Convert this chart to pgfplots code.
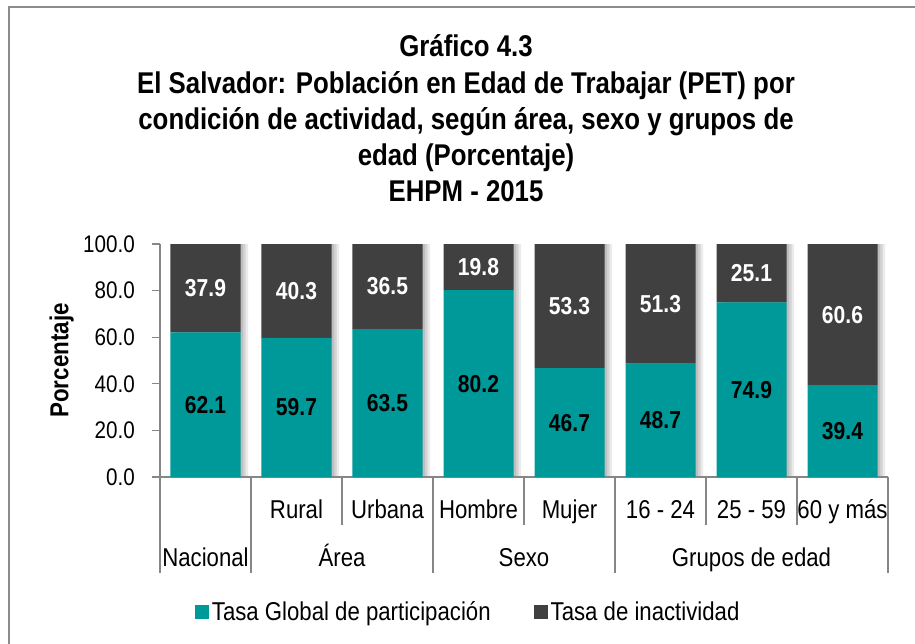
\documentclass[border=0pt]{standalone}
\usepackage{fontspec}
\setmainfont{Liberation Sans}[FakeStretch=0.86]
\usepackage{pgfplots}
\usepackage{pgfplotstable}
\pgfplotsset{compat=1.18}
\definecolor{tealc}{RGB}{0,153,153}
\definecolor{darkc}{RGB}{64,64,64}
\definecolor{gridc}{RGB}{217,217,217}
\definecolor{axisc}{RGB}{134,134,134}
\definecolor{borderc}{RGB}{140,140,140}

\pgfplotstableread{
x a b
0 62.1 37.9
1 59.7 40.3
2 63.5 36.5
3 80.2 19.8
4 46.7 53.3
5 48.7 51.3
6 74.9 25.1
7 39.4 60.6
}\data
\pgfplotstablecreatecol[create col/expr={\thisrow{a}/2}]{ma}{\data}
\pgfplotstablecreatecol[create col/expr={\thisrow{a}+\thisrow{b}/2}]{mb}{\data}
\pgfplotstablecreatecol[create col/expr={\thisrow{a}+\thisrow{b}}]{tot}{\data}

\pgfplotsset{
  samebox/.style={
    at={(160pt,-477pt)}, anchor=south west,
    scale only axis, width=728pt, height=233pt,
    xmin=-0.5, xmax=7.5, ymin=0, ymax=100,
  }
}
\newcommand{\catfont}{\fontsize{25.8}{30}\selectfont}

\begin{document}
\begin{tikzpicture}[x=1pt,y=1pt]
\path[use as bounding box] (0,0) rectangle (915,-644);
\draw[borderc, line width=2.5pt] (9,-700) -- (9,-7) -- (1000,-7);
\begin{scope}[every node/.style={anchor=base, inner sep=0pt, font=\fontsize{30}{36}\selectfont\bfseries}]
\node at (466,-57) {Gráfico 4.3};
\node at (466,-94) {El Salvador: Población en Edad de Trabajar (PET) por};
\node at (466,-130) {condición de actividad, según área, sexo y grupos de};
\node at (466,-166) {edad (Porcentaje)};
\node at (466,-202) {EHPM - 2015};
\end{scope}

% grid + shadows behind the bars
\begin{axis}[samebox, ybar, bar width=70pt, bar shift=0pt,
  axis lines=none, ytick={20,40,60,80,100}, xtick=\empty,
  ymajorgrids, grid style={draw=gridc, line width=1pt}]
\addplot[fill=black, draw=none, opacity=0.10, bar shift=2.5pt] table[x=x, y=tot]{\data};
\addplot[fill=black, draw=none, opacity=0.10, bar shift=5pt] table[x=x, y=tot]{\data};
\addplot[fill=black, draw=none, opacity=0.08, bar shift=7.5pt] table[x=x, y=tot]{\data};
\end{axis}

\begin{axis}[
  samebox,
  ybar stacked, bar width=70pt,
  clip=false,
  axis x line*=bottom, axis y line*=left,
  axis line style={draw=axisc, line width=1.2pt},
  /pgf/number format/assume math mode=true,
  ytick={0,20,40,60,80,100},
  yticklabel style={/pgf/number format/fixed, /pgf/number format/fixed zerofill,
     /pgf/number format/precision=1,
     font=\fontsize{24}{28}\selectfont, inner sep=0pt, xshift=-17pt},
  tick align=outside, major tick length=8pt,
  y tick style={draw=axisc, line width=1.2pt},
  x tick style={draw=none},
  xtick={1,2,3,4,5,6,7},
  xticklabels={Rural,Urbana,Hombre,Mujer,16 - 24,25 - 59,60 y más},
  xticklabel style={anchor=base, yshift=-33pt, inner sep=0pt, font=\catfont},
  ylabel={Porcentaje},
  ylabel style={at={(axis description cs:-0.135,0.5)}, anchor=center, font=\fontsize{26}{30}\selectfont\bfseries},
  legend columns=2,
  legend image code/.code={\fill[#1] (0pt,-7pt) rectangle (14pt,7pt);},
  legend style={at={(0.424,-0.579)}, anchor=center, draw=none, fill=none,
     font=\catfont, nodes={inner sep=3pt},
     /tikz/every even column/.append style={column sep=40pt}},
]
\addplot[fill=tealc, draw=none] table[x=x, y=a]{\data};
\addlegendentry{Tasa Global de participación}
\addplot[fill=darkc, draw=none] table[x=x, y=b]{\data};
\addlegendentry{Tasa de inactividad}

\draw[axisc, line width=1.2pt] (axis cs:-0.5,0) -- ++(0pt,-96pt);
\draw[axisc, line width=1.2pt] (axis cs:0.5,0) -- ++(0pt,-96pt);
\draw[axisc, line width=1.2pt] (axis cs:2.5,0) -- ++(0pt,-96pt);
\draw[axisc, line width=1.2pt] (axis cs:4.5,0) -- ++(0pt,-96pt);
\draw[axisc, line width=1.2pt] (axis cs:7.5,0) -- ++(0pt,-96pt);
\draw[axisc, line width=1.2pt] (axis cs:1.5,0) -- ++(0pt,-48pt);
\draw[axisc, line width=1.2pt] (axis cs:3.5,0) -- ++(0pt,-48pt);
\draw[axisc, line width=1.2pt] (axis cs:5.5,0) -- ++(0pt,-48pt);
\draw[axisc, line width=1.2pt] (axis cs:6.5,0) -- ++(0pt,-48pt);

\node[anchor=base, inner sep=0pt, yshift=-89pt, font=\catfont] at (axis cs:0,0) {Nacional};
\node[anchor=base, inner sep=0pt, yshift=-89pt, font=\catfont] at (axis cs:1.5,0) {Área};
\node[anchor=base, inner sep=0pt, yshift=-89pt, font=\catfont] at (axis cs:3.5,0) {Sexo};
\node[anchor=base, inner sep=0pt, yshift=-89pt, font=\catfont] at (axis cs:6,0) {Grupos de edad};
\end{axis}

\begin{axis}[
  samebox,
  hide axis, clip=false,
  point meta=explicit,
  nodes near coords={\pgfmathprintnumber[fixed,fixed zerofill,precision=1,assume math mode=true]{\pgfplotspointmeta}},
]
\addplot[draw=none, mark=none,
  every node near coord/.append style={anchor=center, inner sep=0pt, text=black, font=\fontsize{24.5}{29}\selectfont\bfseries}]
  table[x=x, y=ma, meta=a]{\data};
\addplot[draw=none, mark=none,
  every node near coord/.append style={anchor=center, inner sep=0pt, text=white, font=\fontsize{24.5}{29}\selectfont\bfseries}]
  table[x=x, y=mb, meta=b]{\data};
\end{axis}
\end{tikzpicture}
\end{document}
